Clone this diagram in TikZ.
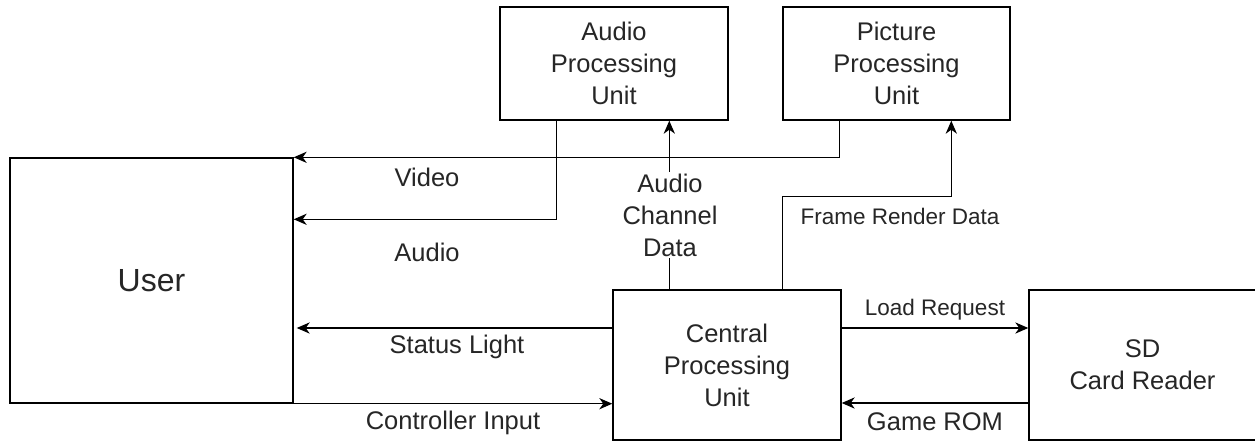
\documentclass[tikz,border=0pt]{standalone}
\usepackage{fontspec}
\setmainfont{Liberation Sans}
\usetikzlibrary{arrows.meta,calc}
\definecolor{txt}{HTML}{262626}
\begin{document}
\begin{tikzpicture}[x=0.5pt,y=-0.5pt,
  box/.style={draw=black,line width=0.7pt,fill=white,inner sep=0pt,align=center,text=txt,
    font=\fontsize{12.75}{16}\selectfont},
  conn/.style={draw=black,line width=0.7pt},
  arr/.style={conn,-{Stealth[length=6.5pt,width=5.6pt,inset=2pt]}},
  lbl/.style={inner sep=1pt,align=center,text=txt,font=\fontsize{12.75}{16}\selectfont},
  slbl/.style={inner sep=1pt,align=center,text=txt,font=\fontsize{11.25}{14}\selectfont}]
\useasboundingbox (0,0) rectangle (1255,441);
\fill[white] (0,0) rectangle (1255,441);
% boxes
\node[box,minimum width=141.5pt,minimum height=122.5pt,font=\fontsize{16}{19}\selectfont] (user) at (151.5,280.5) {User};
\node[box,minimum width=114pt,minimum height=56.5pt] (apu) at (614,63.5) {Audio\\Processing\\Unit};
\node[box,minimum width=113.5pt,minimum height=56.5pt] (ppu) at (896.5,63.5) {Picture\\Processing\\Unit};
\node[box,minimum width=114pt,minimum height=75pt] (cpu) at (727,365) {Central\\Processing\\Unit};
\node[box,minimum width=113.5pt,minimum height=75pt] (sd) at (1142.5,365) {SD\\Card Reader};
% named points
\coordinate (vstart) at ($(ppu.south west)+(57,0)$);
\coordinate (astart) at ($(apu.south west)+(57,0)$);
\coordinate (acdstart) at ($(cpu.north west)+(57,0)$);
\coordinate (frstart) at ($(cpu.north west)+(170,0)$);
\coordinate (frend) at ($(ppu.south west)+(169,0)$);
\coordinate (ststart) at ($(cpu.west)+(0,-37)$);
\coordinate (ldstart) at ($(cpu.east)+(0,-37)$);
\coordinate (gmstart) at ($(sd.west)+(0,38)$);
% connectors
\draw[arr] (vstart) |- (user.north east);
\draw[arr] (astart) |- ($(user.north east)+(0,62)$);
\draw[arr] (acdstart) -- (acdstart |- apu.south);
\draw[arr] (frstart) |- ($(frend)+(0,76)$) -- (frend);
\draw[arr] (ststart) -- ($(ststart -| user.east)+(3,0)$);
\draw[arr] (user.south east) -- (user.south east -| cpu.west);
\draw[arr] (ldstart) -- (ldstart -| sd.west);
\draw[arr] (gmstart) -- (gmstart -| cpu.east);
% labels
\node[lbl] (lvideo) at (427,177) {Video};
\node[lbl] (laudio) at (427,252) {Audio};
\node[lbl,fill=white] (lacd) at (670,215) {Audio\\Channel\\Data};
\node[slbl] (lframe) at (900,216) {Frame Render Data};
\node[lbl] (lstatus) at (457,347) {Status Light};
\node[lbl] (lctrl) at (453,423) {Controller Input};
\node[slbl] (lload) at (935,310) {Load Request};
\node[lbl] (lgame) at (935,422) {Game ROM};
\end{tikzpicture}
\end{document}
